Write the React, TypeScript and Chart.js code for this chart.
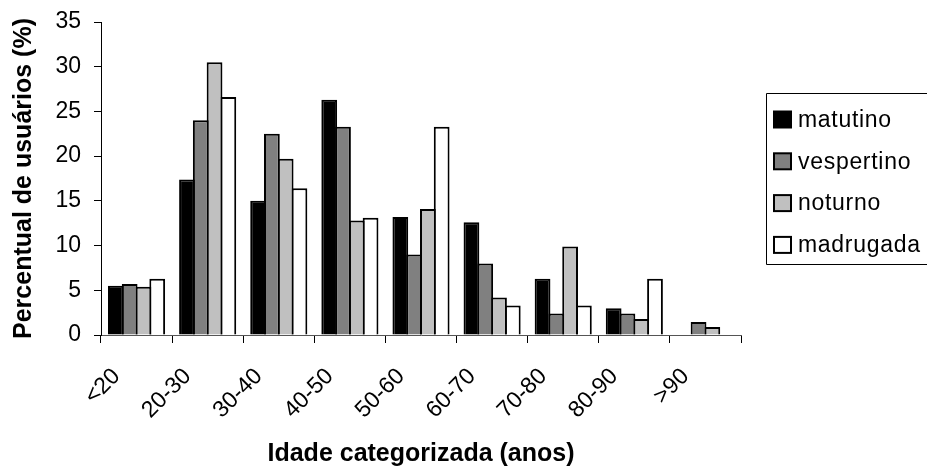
import React, { useEffect, useRef } from "react";
import { Chart, registerables } from "chart.js";

Chart.register(...registerables);

const categories = ["<20", "20-30", "30-40", "40-50", "50-60", "60-70", "70-80", "80-90", ">90"];
const matutino = [5.5, 17.4, 15.0, 26.3, 13.2, 12.6, 6.3, 3.0, 0];
const vespertino = [5.7, 24.0, 22.5, 23.3, 9.0, 8.0, 2.4, 2.4, 1.45];
const noturno = [5.4, 30.5, 19.7, 12.8, 14.1, 4.2, 9.9, 1.8, 0.9];
const madrugada = [6.3, 26.6, 16.4, 13.1, 23.3, 3.3, 3.3, 6.3, 0];
const seriesNames = ["matutino", "vespertino", "noturno", "madrugada"];
const seriesColors = ["#000000", "#808080", "#c0c0c0", "#ffffff"];
const yMin = 0;
const yMax = 35;
const yStep = 5;
const xTitle = "Idade categorizada (anos)";
const yTitle = "Percentual de usuários (%)";

const FONT = "'Liberation Sans', Arial, Helvetica, sans-serif";

const boxLegend = {
  id: "boxLegend",
  afterDraw(chart: any) {
    const ctx = chart.ctx as CanvasRenderingContext2D;
    ctx.save();
    ctx.strokeStyle = "#000";
    ctx.lineWidth = 1;
    ctx.beginPath();
    ctx.moveTo(940, 93.5);
    ctx.lineTo(766.5, 93.5);
    ctx.lineTo(766.5, 264.5);
    ctx.lineTo(940, 264.5);
    ctx.stroke();
    chart.data.datasets.forEach((ds: any, i: number) => {
      const cy = 119.5 + i * 41.8;
      ctx.fillStyle = "#000";
      ctx.fillRect(773, cy - 9, 19, 18);
      ctx.fillStyle = ds.backgroundColor;
      ctx.fillRect(775, cy - 7, 15, 14);
      ctx.fillStyle = "#000";
      ctx.font = `23px ${FONT}`;
      ctx.textBaseline = "middle";
      ctx.textAlign = "left";
      (ctx as any).letterSpacing = "0.7px";
      ctx.fillText(ds.label, 798, cy + 1);
    });
    ctx.restore();
  },
};

export default function App() {
  const ref = useRef<HTMLCanvasElement | null>(null);

  useEffect(() => {
    if (!ref.current) return;
    const seriesData = [matutino, vespertino, noturno, madrugada];
    const chart = new Chart(ref.current, {
      type: "bar",
      data: {
        labels: categories,
        datasets: seriesNames.map((name, i) => ({
          label: name,
          data: seriesData[i],
          backgroundColor: seriesColors[i],
          borderColor: "#000",
          borderWidth: 2,
          borderSkipped: "bottom",
          categoryPercentage: 0.775,
          barPercentage: 1.145,
        })),
      },
      options: {
        responsive: false,
        animation: false,
        devicePixelRatio: 1,
        layout: { padding: { left: 0, top: 22, right: 186, bottom: 0 } },
        plugins: {
          legend: { display: false },
          tooltip: { enabled: false },
          title: { display: false },
        },
        scales: {
          x: {
            offset: true,
            grid: {
              offset: true,
              drawOnChartArea: false,
              drawTicks: true,
              tickLength: 8,
              color: "#000",
            },
            border: { display: true, color: "#555", width: 1 },
            ticks: {
              color: "#000",
              font: { family: FONT, size: 23 },
              maxRotation: 45,
              minRotation: 45,
              padding: 20,
              labelOffset: -20,
            },
            title: {
              display: true,
              text: xTitle,
              color: "#000",
              font: { family: FONT, size: 25, weight: "bold" },
              padding: { top: 0, bottom: 0 },
            },
            afterFit(scale: any) {
              scale.height = 134;
              scale.paddingLeft = 0;
              scale.paddingRight = 0;
            },
          },
          y: {
            min: yMin,
            max: yMax,
            ticks: {
              stepSize: yStep,
              color: "#000",
              font: { family: FONT, size: 23 },
              padding: 13,
            },
            grid: {
              drawOnChartArea: false,
              drawTicks: true,
              tickLength: 7,
              color: "#000",
            },
            border: { display: true, color: "#000", width: 1 },
            title: {
              display: true,
              text: yTitle,
              color: "#000",
              font: { family: FONT, size: 25, weight: "bold" },
              padding: { top: 9, bottom: 0 },
            },
            afterFit(scale: any) {
              scale.width = 101;
              scale.paddingTop = 0;
              scale.paddingBottom = 0;
            },
          },
        },
      },
      plugins: [boxLegend],
    });
    return () => chart.destroy();
  }, []);

  return (
    <div style={{ position: "absolute", left: 0, top: 0, width: 927, height: 469, background: "#fff" }}>
      <canvas ref={ref} width={927} height={469} style={{ display: "block", width: 927, height: 469 }} />
    </div>
  );
}
